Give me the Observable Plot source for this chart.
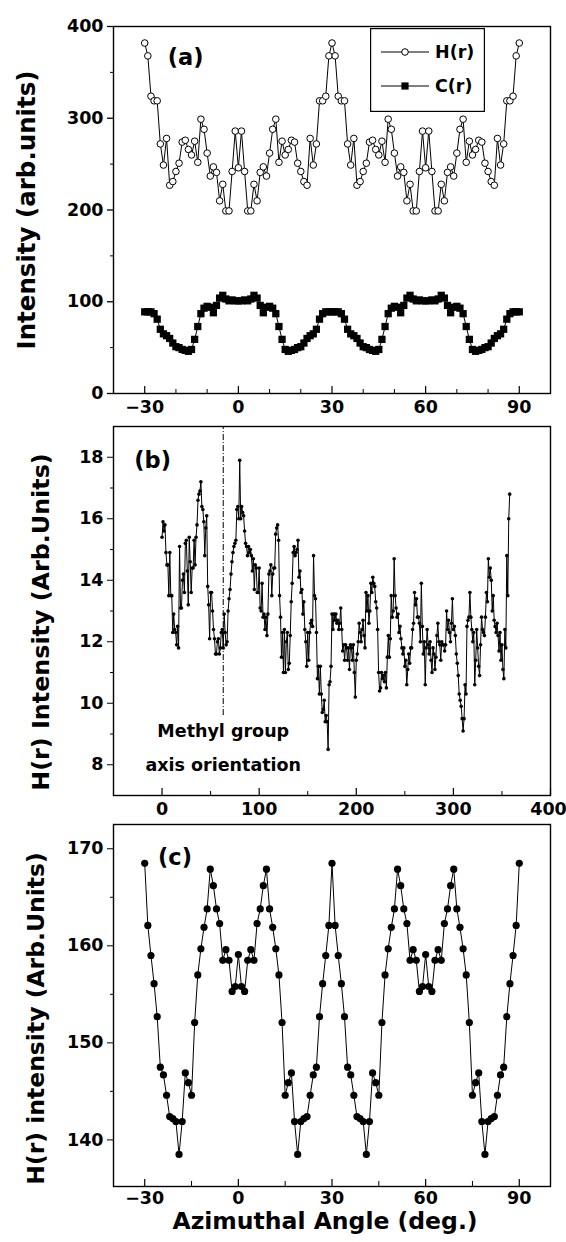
<!DOCTYPE html>
<html><head><meta charset="utf-8">
<script src="https://cdn.jsdelivr.net/npm/d3@7"></script>
<script src="https://cdn.jsdelivr.net/npm/@observablehq/plot@0.6"></script>
<style>
body{margin:0;background:#fff;}
#wrap{position:relative;width:566px;height:1242px;font-family:"DejaVu Sans",sans-serif;overflow:hidden;}
.panel{position:absolute;left:0;}
</style></head><body><div id="wrap"></div>
<script>
// ---------- DATA ----------
// Panel (a): azimuthal angle (deg), 1 deg steps from -30 to 90
const anglesA = d3.range(-30, 91);
const hA = [382,368,324,319,319,272,249,278,227,231,242,251,274,276,266,260,275,252,299,288,262,237,247,241,210,228,199,199,242,286,
  246,286,242,199,199,228,210,241,247,237,262,288,299,252,275,260,266,276,274,251,242,231,227,278,249,272,319,319,324,368,382,
  368,324,319,319,272,249,278,227,231,242,251,274,276,266,260,275,252,299,288,262,237,247,241,210,228,199,199,242,286,246,
  286,242,199,199,228,210,241,247,237,262,288,299,252,275,260,266,276,274,251,242,231,227,278,249,272,319,319,324,368,382];
const cA = [89,89,89,87,81,70,65,63,60,55,51,50,48,47,46,48,59,73,87,93,95,94,88,96,104,107,103,101,102,101,
  101,101,102,101,103,107,104,96,88,94,95,93,87,73,59,48,46,47,48,50,51,55,60,63,65,70,81,87,89,89,89,
  89,89,87,81,70,65,63,60,55,51,50,48,47,46,48,59,73,87,93,95,94,88,96,104,107,103,101,102,101,101,
  101,102,101,103,107,104,96,88,94,95,93,87,73,59,48,46,47,48,50,51,55,60,63,65,70,81,87,89,89,89];
const seriesA = ["H(r)", "C(r)"];
const xTicksA = [-30, 0, 30, 60, 90];
const yTicksA = [0, 100, 200, 300, 400];

// Panel (b): H(r) intensity, 0..358 deg
const anglesB = d3.range(0, 359);
const hB = [15.4,15.9,15.6,15.8,14.9,14.5,14.5,13.5,14.9,13.5,
  13.5,12.3,12.9,12.4,12.3,11.9,12.5,11.8,15.1,13.1,
  13.1,14.0,14.2,13.6,15.2,15.3,14.3,13.2,15.4,14.6,
  13.6,14.4,14.4,15.3,14.5,15.4,15.8,16.6,16.8,16.9,
  17.2,16.4,16.3,15.9,14.8,15.7,16.1,13.8,13.2,12.1,
  13.6,13.6,13.0,12.4,12.1,11.6,11.6,12.0,12.1,11.6,
  11.8,12.3,12.4,11.8,12.9,12.3,11.9,12.0,13.0,13.4,
  13.7,14.2,14.6,14.9,15.1,15.2,15.3,16.3,16.4,16.0,
  17.9,16.0,16.4,16.2,16.1,15.6,15.2,15.1,14.8,15.1,
  14.9,15.0,14.8,14.3,14.7,13.7,14.5,14.4,13.6,13.6,
  14.4,13.1,13.0,13.9,12.8,12.9,12.4,12.8,12.2,12.9,
  14.2,14.3,14.5,13.5,14.2,14.4,14.4,15.5,15.7,15.8,
  15.3,13.5,12.8,11.5,12.3,11.0,12.4,11.0,12.0,12.3,
  11.1,11.3,12.2,13.3,13.9,14.9,15.1,14.8,14.9,15.0,
  15.3,14.1,14.3,13.6,13.7,12.9,13.3,12.4,12.0,11.2,
  12.3,11.4,12.3,12.6,12.7,12.5,14.8,13.5,13.4,12.3,
  10.8,11.2,10.3,11.2,10.3,9.7,9.8,10.1,9.4,9.6,
  9.4,8.5,10.6,10.7,11.2,12.9,12.4,12.9,12.7,12.9,
  12.6,12.7,12.4,12.6,13.1,12.4,11.7,11.9,11.4,11.9,
  11.8,11.4,11.8,11.1,11.9,11.8,11.4,11.9,11.0,10.2,
  11.4,11.6,12.0,12.6,12.3,12.0,12.4,12.7,12.2,11.8,
  13.6,13.0,13.5,12.6,13.0,13.9,13.6,14.1,13.9,13.8,
  13.3,13.1,12.4,11.0,10.4,10.5,11.0,10.8,10.9,10.7,
  11.0,10.5,11.5,12.2,11.5,12.1,13.5,12.8,13.0,14.7,
  13.5,13.1,12.8,12.9,12.3,12.5,12.1,11.8,11.6,11.8,
  11.2,11.4,10.6,11.1,11.6,11.3,11.8,11.8,12.4,12.6,
  13.6,13.2,13.4,12.8,12.8,12.6,12.0,13.9,12.5,11.6,
  12.0,10.6,11.8,12.4,11.9,11.6,12.0,11.4,11.0,11.8,
  11.6,11.1,11.5,12.2,12.6,12.0,11.9,11.4,12.0,11.9,
  11.9,11.7,11.9,13.0,12.4,12.7,12.3,12.0,12.6,13.4,
  12.4,12.5,12.2,11.6,11.3,10.9,10.3,10.1,9.9,9.5,
  9.1,9.5,10.6,10.3,12.5,12.7,12.8,13.6,12.8,12.4,
  12.0,12.3,10.6,11.4,12.4,11.8,11.2,10.9,11.9,12.8,
  12.4,12.3,12.2,12.8,13.6,13.3,14.7,14.1,14.4,14.0,
  13.0,13.5,12.7,12.5,12.3,12.6,12.2,11.7,12.3,11.4,
  11.9,11.1,10.8,12.4,11.8,14.8,13.5,16.0,16.8];
const xTicksB = [0, 100, 200, 300];
const xTickLastB = [400];
const yTicksB = [8, 10, 12, 14, 16, 18];
const methylAngle = 63;

// Panel (c): H(r) intensity, -30..90 deg
const anglesC = d3.range(-30, 91);
const hC = [168.5,162.1,159.0,156.1,152.7,147.5,146.7,144.6,142.4,142.2,141.9,138.5,141.9,146.9,145.9,144.6,152.1,157.0,159.7,161.9,163.8,167.9,166.2,163.8,162.3,158.5,159.6,158.5,155.3,155.8,
  159.1,155.8,155.3,158.5,159.6,158.5,162.3,163.8,166.2,167.9,163.8,161.9,159.7,157.0,152.1,144.6,145.9,146.9,141.9,138.5,141.9,142.2,142.4,144.6,146.7,147.5,152.7,156.1,159.0,162.1,168.5,
  162.1,159.0,156.1,152.7,147.5,146.7,144.6,142.4,142.2,141.9,138.5,141.9,146.9,145.9,144.6,152.1,157.0,159.7,161.9,163.8,167.9,166.2,163.8,162.3,158.5,159.6,158.5,155.3,155.8,159.1,
  155.8,155.3,158.5,159.6,158.5,162.3,163.8,166.2,167.9,163.8,161.9,159.7,157.0,152.1,144.6,145.9,146.9,141.9,138.5,141.9,142.2,142.4,144.6,146.7,147.5,152.7,156.1,159.0,162.1,168.5];
const xTicksC = [-30, 0, 30, 60, 90];
const yTicksC = [140, 150, 160, 170];

// ---------- RENDER ----------
const FONT = '"DejaVu Sans", sans-serif';
const wrap = document.getElementById("wrap");
const baseStyle = {fontFamily: FONT, fontWeight: "bold", color: "black", background: "white", overflow: "visible"};
const tickFont = {fontSize: 17.5, fontWeight: "bold", fontFamily: FONT};
const tagFont = {fontSize: 22.5, fontWeight: "bold", fontFamily: FONT};
const bold = (size) => ({fontSize: size, fontWeight: "bold", fontFamily: FONT});

function place(svg, top) {
  const d = document.createElement("div");
  d.className = "panel";
  d.style.top = top + "px";
  d.appendChild(svg);
  wrap.appendChild(d);
}

const dataA = anglesA.map((a, i) => ({a, h: hA[i], c: cA[i]}));
const pa = Plot.plot({
  width: 566, height: 420,
  marginTop: 26, marginBottom: 27, marginLeft: 113, marginRight: 16,
  style: baseStyle,
  x: {domain: [-40, 100], label: null},
  y: {domain: [0, 400], label: null},
  marks: [
    Plot.frame({strokeWidth: 1.4}),
    Plot.axisY({ticks: yTicksA, tickSize: 6, tickPadding: 4, ...tickFont, strokeWidth: 1.3, label: null}),
    Plot.axisY({ticks: [50, 150, 250, 350], tickSize: 3, text: null, label: null}),
    Plot.axisX({ticks: xTicksA, tickSize: 0, tickPadding: 7.5, ...tickFont, label: null}),
    Plot.axisX({ticks: xTicksA, tickSize: -7, text: null, strokeWidth: 1.2, label: null}),
    Plot.axisX({ticks: [-20, -10, 10, 20, 40, 50, 70, 80], tickSize: -4, text: null, label: null}),
    Plot.line(dataA, {x: "a", y: "c", stroke: "black", strokeWidth: 1}),
    Plot.dot(dataA, {x: "a", y: "c", symbol: "square", r: 4.1, fill: "black", stroke: "none"}),
    Plot.line(dataA, {x: "a", y: "h", stroke: "black", strokeWidth: 1}),
    Plot.dot(dataA, {x: "a", y: "h", r: 3.3, fill: "white", stroke: "black", strokeWidth: 1}),
    Plot.text(["(a)"], {x: -16.9, y: 366, ...tagFont}),
    Plot.text(["Intensity (arb.units)"], {frameAnchor: "left", textAnchor: "middle", dx: -86, rotate: -90, ...bold(24.5)})
  ]
});
place(pa, 0);

// legend for panel (a)
const lg = d3.create("svg").attr("width", 115).attr("height", 84);
lg.append("rect").attr("x", 0.6).attr("y", 0.6).attr("width", 113.8).attr("height", 82.8).attr("fill", "white").attr("stroke", "black").attr("stroke-width", 1.2);
seriesA.forEach((name, i) => {
  const yy = 24 + i * 34;
  lg.append("line").attr("x1", 11).attr("x2", 59).attr("y1", yy).attr("y2", yy).attr("stroke", "black");
  if (i === 0) lg.append("circle").attr("cx", 35).attr("cy", yy).attr("r", 3.3).attr("fill", "white").attr("stroke", "black");
  else lg.append("rect").attr("x", 35 - 3.6).attr("y", yy - 3.6).attr("width", 7.2).attr("height", 7.2).attr("fill", "black");
  lg.append("text").attr("x", 65).attr("y", yy).attr("dy", "0.36em").attr("font-size", 17.5).attr("font-weight", "bold").attr("font-family", FONT).text(name);
});
const lgDiv = document.createElement("div");
lgDiv.style.position = "absolute"; lgDiv.style.left = "370px"; lgDiv.style.top = "28px";
lgDiv.appendChild(lg.node());
wrap.appendChild(lgDiv);

const dataB = anglesB.map((a, i) => ({a, h: hB[i]}));
const pb = Plot.plot({
  width: 566, height: 400,
  marginTop: 6, marginBottom: 25, marginLeft: 113, marginRight: 16,
  style: baseStyle,
  x: {domain: [-50, 400], label: null},
  y: {domain: [7, 19], label: null},
  marks: [
    Plot.frame({strokeWidth: 1.4}),
    Plot.axisY({ticks: yTicksB, tickSize: 6, tickPadding: 4, ...tickFont, label: null}),
    Plot.axisY({ticks: [9, 11, 13, 15, 17], tickSize: 3, text: null, label: null}),
    Plot.axisX({ticks: xTicksB, tickSize: 0, tickPadding: 7.5, ...tickFont, label: null}),
    Plot.axisX({ticks: xTickLastB, tickSize: 0, tickPadding: 7.5, dx: -2, ...tickFont, label: null}),
    Plot.axisX({ticks: [...xTicksB, ...xTickLastB], tickSize: -7, text: null, strokeWidth: 1.2, label: null}),
    Plot.axisX({ticks: [-50, 50, 150, 250, 350], tickSize: -4, text: null, label: null}),
    Plot.ruleX([methylAngle], {y1: 9.6, y2: 19, stroke: "black", strokeWidth: 1, strokeDasharray: "6,2,1,2"}),
    Plot.line(dataB, {x: "a", y: "h", stroke: "black", strokeWidth: 1}),
    Plot.dot(dataB, {x: "a", y: "h", r: 1.8, fill: "black", stroke: "none"}),
    Plot.text(["(b)"], {x: -9.7, y: 17.9, ...tagFont}),
    Plot.text(["Methyl group"], {x: methylAngle, y: 9.07, ...bold(17.5)}),
    Plot.text(["axis orientation"], {x: methylAngle, y: 7.99, ...bold(17.5)}),
    Plot.text(["H(r) Intensity (Arb.Units)"], {frameAnchor: "left", textAnchor: "middle", dx: -72, dy: 11, rotate: -90, ...bold(23.8)})
  ]
});
place(pb, 420);

const dataC = anglesC.map((a, i) => ({a, h: hC[i]}));
const pc = Plot.plot({
  width: 566, height: 422,
  marginTop: 4, marginBottom: 56, marginLeft: 113, marginRight: 16,
  style: baseStyle,
  x: {domain: [-40, 100], label: null},
  y: {domain: [135.2, 172.5], label: null},
  marks: [
    Plot.frame({strokeWidth: 1.4}),
    Plot.axisY({ticks: yTicksC, tickSize: 6, tickPadding: 4, ...tickFont, label: null}),
    Plot.axisY({ticks: [145, 155, 165], tickSize: 3, text: null, label: null}),
    Plot.axisX({ticks: xTicksC, tickSize: 0, tickPadding: 5, ...tickFont, label: null}),
    Plot.axisX({ticks: xTicksC, tickSize: -7, text: null, strokeWidth: 1.2, label: null}),
    Plot.axisX({ticks: [-15, 15, 45, 75], tickSize: -5, text: null, label: null}),
    Plot.line(dataC, {x: "a", y: "h", stroke: "black", strokeWidth: 1}),
    Plot.dot(dataC, {x: "a", y: "h", r: 3.6, fill: "black", stroke: "none"}),
    Plot.text(["(c)"], {x: -20.3, y: 169.1, ...tagFont}),
    Plot.text(["H(r) intensity (Arb.Units)"], {frameAnchor: "left", textAnchor: "middle", dx: -77, dy: 13, rotate: -90, ...bold(23.5)}),
    Plot.text(["Azimuthal Angle (deg.)"], {frameAnchor: "bottom", dx: -7, dy: 42, ...bold(23.5)})
  ]
});
place(pc, 820);
</script></body></html>
